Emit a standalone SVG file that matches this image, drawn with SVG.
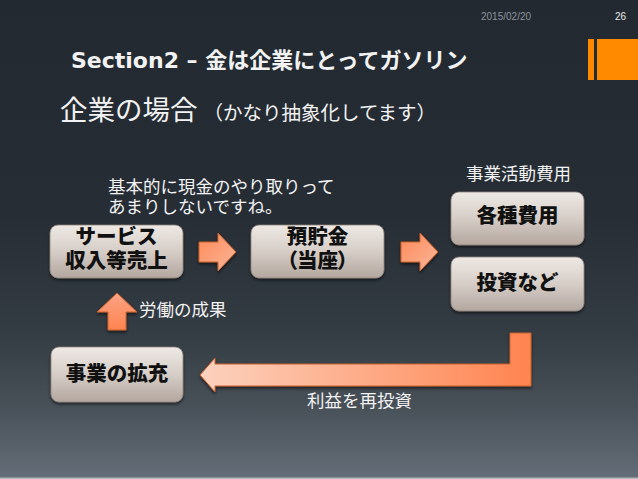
<svg xmlns="http://www.w3.org/2000/svg" width="638" height="479" viewBox="0 0 638 479">
<defs>
<linearGradient id="bg" x1="0" y1="0" x2="0" y2="1">
<stop offset="0" stop-color="#222930"/>
<stop offset="0.45" stop-color="#262d35"/>
<stop offset="0.7" stop-color="#343c44"/>
<stop offset="0.85" stop-color="#485058"/>
<stop offset="1" stop-color="#656e78"/>
</linearGradient>
<linearGradient id="box" x1="0" y1="0" x2="0" y2="1">
<stop offset="0" stop-color="#eee9e5"/>
<stop offset="0.5" stop-color="#d6cdc7"/>
<stop offset="1" stop-color="#b3a79f"/>
</linearGradient>
<linearGradient id="arr" x1="0" y1="0" x2="1" y2="1">
<stop offset="0" stop-color="#ff8a58"/>
<stop offset="1" stop-color="#f9b69a"/>
</linearGradient>
<linearGradient id="arrUp" x1="0" y1="0" x2="0" y2="1">
<stop offset="0" stop-color="#fba385"/>
<stop offset="1" stop-color="#ff8450"/>
</linearGradient>
<linearGradient id="arrL" gradientUnits="userSpaceOnUse" x1="200" y1="0" x2="531" y2="0">
<stop offset="0" stop-color="#fcd2bf"/>
<stop offset="1" stop-color="#ff8450"/>
</linearGradient>
<filter id="sh" x="-10%" y="-10%" width="120%" height="130%">
<feDropShadow dx="0" dy="2" stdDeviation="1.5" flood-color="#000" flood-opacity="0.55"/>
</filter>
<style>
.box{fill:url(#box);stroke:#8d8078;stroke-width:0.8;filter:url(#sh)}
.bt{font-family:"Noto Sans CJK JP",sans-serif;font-weight:900;font-size:20.5px;fill:#111;text-anchor:middle}
.lb{font-family:"Noto Sans CJK JP",sans-serif;font-size:17.5px;fill:#f2f2f2}
.ar{stroke:#c5602c;stroke-width:1;stroke-linejoin:miter;filter:url(#sh)}
</style>
</defs>
<rect width="638" height="479" fill="url(#bg)"/>
<rect x="0" y="477.5" width="638" height="1.5" fill="#b4b9be"/>

<g id="header">
<text x="481" y="20" font-family="'Liberation Sans',sans-serif" font-size="10" fill="#8c939b">2015/02/20</text>
<text x="615" y="20" font-family="'Liberation Sans',sans-serif" font-size="10" fill="#e8e8e8">26</text>
<rect x="588" y="39" width="6" height="41" fill="#ff8a00"/>
<rect x="597" y="39" width="41" height="41" fill="#ff8a00"/>
<text x="71" y="68" font-family="'DejaVu Sans','Noto Sans CJK JP',sans-serif" font-weight="bold" font-size="22" fill="#f2f2f2">Section2 – <tspan font-family="'Noto Sans CJK JP',sans-serif">金は企業にとってガソリン</tspan></text>
<text x="60" y="120" font-family="'Noto Sans CJK JP',sans-serif" font-size="27.5" fill="#f2f2f2">企業の場合<tspan font-size="19.5" dx="6">（かなり抽象化してます）</tspan></text>
</g>

<g id="connectors">
<path class="ar" fill="url(#arr)" d="M199,242 H218 V233 L236,252 L218,271 V262 H199 Z"/>
<path class="ar" fill="url(#arr)" d="M401,242 H420 V233 L438,252 L420,271 V262 H401 Z"/>
<path class="ar" fill="url(#arrUp)" d="M117,293 L137,312 H126 V330 H108 V312 H97 Z"/>
<path class="ar" fill="url(#arrL)" d="M510,333 H531 V386 H215 V392 L200,375 L215,358 V364 H510 Z"/>
</g>

<g id="label-cash">
<text class="lb" x="108" y="193">基本的に現金のやり取りって</text>
<text class="lb" x="108" y="213">あまりしないですね。</text>
</g>
<g id="label-labor"><text class="lb" x="139" y="316">労働の成果</text></g>
<g id="label-activity"><text class="lb" x="466" y="180">事業活動費用</text></g>
<g id="label-reinvest"><text class="lb" x="307" y="407">利益を再投資</text></g>

<g id="node-service">
<rect class="box" x="50" y="225" width="133" height="53" rx="8"/>
<text class="bt" x="116.5" y="244" font-size="19.5">サービス</text>
<text class="bt" x="116.5" y="268" font-size="19.5">収入等売上</text>
</g>
<g id="node-deposit">
<rect class="box" x="251" y="225" width="133" height="53" rx="8"/>
<text class="bt" x="317.5" y="244">預貯金</text>
<text class="bt" x="317.5" y="268" style="font-feature-settings:'palt'">（当座）</text>
</g>
<g id="node-expenses">
<rect class="box" x="451" y="192" width="133" height="53" rx="8"/>
<text class="bt" x="517.5" y="223">各種費用</text>
</g>
<g id="node-invest">
<rect class="box" x="451" y="257" width="133" height="54" rx="8"/>
<text class="bt" x="517.5" y="290">投資など</text>
</g>
<g id="node-expand">
<rect class="box" x="51" y="347" width="132" height="55" rx="8"/>
<text class="bt" x="117" y="381">事業の拡充</text>
</g>
</svg>
